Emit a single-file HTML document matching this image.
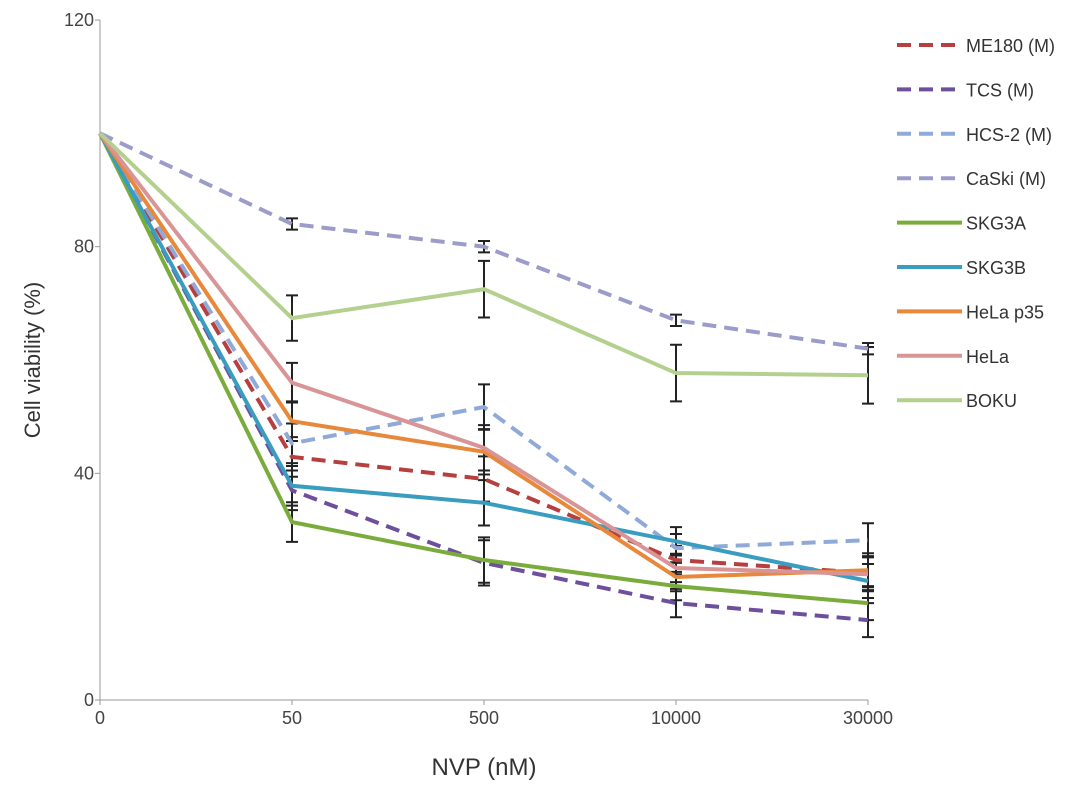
<!DOCTYPE html>
<html><head><meta charset="utf-8"><style>
body{margin:0;background:#fff;}
svg text{font-family:"Liberation Sans",sans-serif;}
</style></head><body>
<svg id="chart" width="1087" height="790"></svg>
<script>
const categories=["0","50","500","10000","30000"];
const yTicks=[0,40,80,120];
const seriesNames=["ME180 (M)","TCS (M)","HCS-2 (M)","CaSki (M)","SKG3A","SKG3B","HeLa p35","HeLa","BOKU"];
const seriesColors=["#b5403f","#6d4f9c","#8fa9d8","#9b9cc9","#7aac3c","#3a9dbf","#e8883a","#d99595","#b3d08e"];
const seriesDashed=[true,true,true,true,false,false,false,false,false];
const me180=[100,42.9,39,24.7,22.4];
const tcs=[100,37,24.2,17.1,14.1];
const hcs2=[100,45.3,51.7,26.8,28.2];
const caski=[100,84,80,67,62];
const skg3a=[100,31.4,24.7,20.1,17.1];
const skg3b=[100,37.8,34.8,28,21];
const helap35=[100,49.2,43.8,21.7,22.9];
const hela=[100,56,44.5,23.3,22.2];
const boku=[100,67.4,72.5,57.7,57.3];
const bokuErr=[0,4,5,5,5];
const caskiErr=[0,1,1,1,1];
const otherErr=[0,3.5,4,2.5,3];
const seriesValues=[me180,tcs,hcs2,caski,skg3a,skg3b,helap35,hela,boku];
const x0=100,x1=868,yTop=20,yBot=700,yMax=120;
const xs=i=>x0+i*(x1-x0)/(categories.length-1);
const ys=v=>yBot-v*(yBot-yTop)/yMax;
const svg=document.getElementById('chart');
const NS="http://www.w3.org/2000/svg";
function mk(t,a){const e=document.createElementNS(NS,t);for(const k in a)e.setAttribute(k,a[k]);svg.appendChild(e);return e;}
let e;
e=mk('line',{x1:x0,y1:yTop,x2:x0,y2:yBot,stroke:'#999','stroke-width':1});


e=mk('line',{x1:x0,y1:yBot,x2:x1,y2:yBot,stroke:'#999','stroke-width':1});


yTicks.forEach(v=>{
 const t=mk('line',{x1:x0-5,y1:ys(v),x2:x0,y2:ys(v),stroke:'#999'});
 
 
 const l=mk('text',{x:x0-6,y:ys(v)+6,'text-anchor':'end','font-size':18,fill:'#444'});l.textContent=v;
 
 
});
categories.forEach((c,i)=>{
 const t=mk('line',{x1:xs(i),y1:yBot,x2:xs(i),y2:yBot+5,stroke:'#999'});
 
 
 const l=mk('text',{x:xs(i),y:yBot+24,'text-anchor':'middle','font-size':18,fill:'#444'});l.textContent=c;
 
 
});
e=mk('text',{x:484,y:775,'text-anchor':'middle','font-size':24,fill:'#333'});e.textContent='NVP (nM)';


e=mk('text',{x:40,y:360,'text-anchor':'middle','font-size':22,fill:'#333',transform:'rotate(-90 40 360)'});e.textContent='Cell viability (%)';


seriesValues.forEach((vals,s)=>{
 const err=s===8?bokuErr:(s===3?caskiErr:otherErr);
 vals.forEach((v,i)=>{
  if(!err[i])return;
  const x=xs(i),a=ys(v+err[i]),b=ys(v-err[i]);
  const g=mk('path',{d:`M${x},${a}V${b}M${x-6},${a}H${x+6}M${x-6},${b}H${x+6}`,stroke:'#222','stroke-width':2,fill:'none'});
  
  
 });
});
seriesValues.forEach((vals,s)=>{
 const d=vals.map((v,i)=>(i?'L':'M')+xs(i)+','+ys(v)).join('');
 const p=mk('path',{d:d,fill:'none',stroke:seriesColors[s],'stroke-width':4});
 if(seriesDashed[s])p.setAttribute('stroke-dasharray','14,8');
 
 
 const ly=45+s*44.4;
 const l=mk('line',{x1:897,y1:ly,x2:962,y2:ly,stroke:seriesColors[s],'stroke-width':4});
 if(seriesDashed[s])l.setAttribute('stroke-dasharray','14,8');
 
 
 const t=mk('text',{x:966,y:ly+7,'font-size':18,fill:'#333'});t.textContent=seriesNames[s];
 
 
});
</script>
</body></html>
